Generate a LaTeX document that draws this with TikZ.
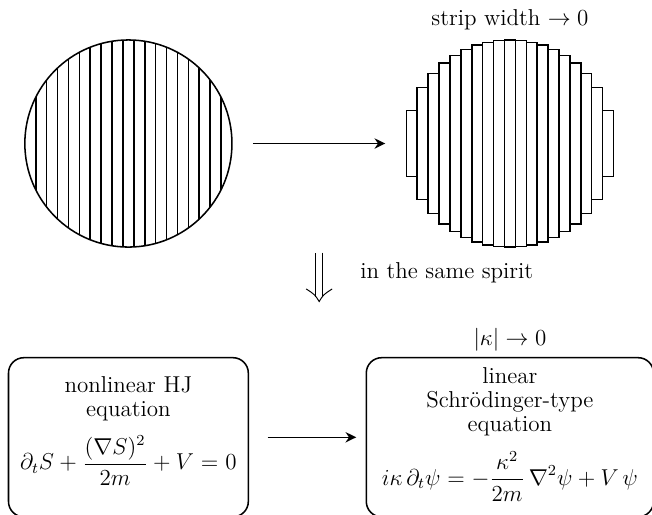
\documentclass[12pt,tikz,border=0pt]{standalone}
\usepackage{tikz}
\usetikzlibrary{arrows.meta, positioning, calc}

\begin{document}
\begin{tikzpicture}[
  flow/.style={thick,-{Stealth[length=5.6pt,width=5.4pt]}},
  strip/.style={thick,fill=white,draw=black},
  eqbox/.style={draw,thick,rounded corners=8pt,align=center,inner sep=3pt,
    font={\fontsize{12}{12.5}\selectfont},minimum height=2.92cm}]
\useasboundingbox (-2.356,2.633) rectangle (9.607,-6.798);
\foreach \x in {-1.7,-1.5,...,1.75} {
  \draw[thick] (\x,{-sqrt(1.9*1.9-(\x)*(\x))}) -- (\x,{sqrt(1.9*1.9-(\x)*(\x))});
}
\node[circle,draw,thick,minimum size=3.8cm,inner sep=0pt] (disk) at (0,0) {};
\foreach \k in {-9,...,9} {
  \pgfmathsetmacro\h{sqrt(1.9*1.9-(0.2*\k)*(0.2*\k))}
  \draw[strip] ({7+0.2*\k-0.1},-\h) rectangle ({7+0.2*\k+0.1},\h);
}
\node[circle,minimum size=3.8cm,inner sep=0pt] (strips) at (7,0) {};
\node (limit) at (7,2.27) {strip width $\to 0$};
\draw[flow,shorten <=0.37cm,shorten >=0.38cm] (disk) -- (strips);
\coordinate (spirittop) at (3.5,-2.0);
\coordinate (spirittip) at (3.5,-2.9);
\draw[double,double distance=3.4pt,line width=0.45pt,shorten >=2.4pt] (spirittop) -- (spirittip);
\draw[line width=0.5pt] ($(spirittip)+(-6.8pt,6.6pt)$) .. controls ($(spirittip)+(-2.2pt,3.6pt)$) .. (spirittip)
  .. controls ($(spirittip)+(2.2pt,3.6pt)$) .. ($(spirittip)+(6.8pt,6.6pt)$);
\node[anchor=west] (spirit) at (4.11,-2.37) {in the same spirit};
\node[eqbox,text width=4.1cm,minimum width=4.4cm] (hj) at (0,-5.39) {nonlinear HJ\\ equation\\[7pt]
  $\displaystyle \partial_t S + \frac{(\nabla S)^2}{2m} + V = 0\rule[-15pt]{0pt}{15pt}$};
\node[eqbox,text width=4.8cm,minimum width=5.27cm] (schr) at (7,-5.39) {linear\\ Schr\"odinger-type\\ equation\\[7pt]
  $\displaystyle i\kappa\,\partial_t\psi = -\frac{\kappa^2}{2m}\,\nabla^2\psi + V\,\psi\rule[-11pt]{0pt}{11pt}$};
\node (kappa) at (7,-3.6) {$|\kappa|\to 0$};
\draw[flow,shorten <=0.34cm,shorten >=0.17cm] (hj) -- (schr);
\end{tikzpicture}
\end{document}
